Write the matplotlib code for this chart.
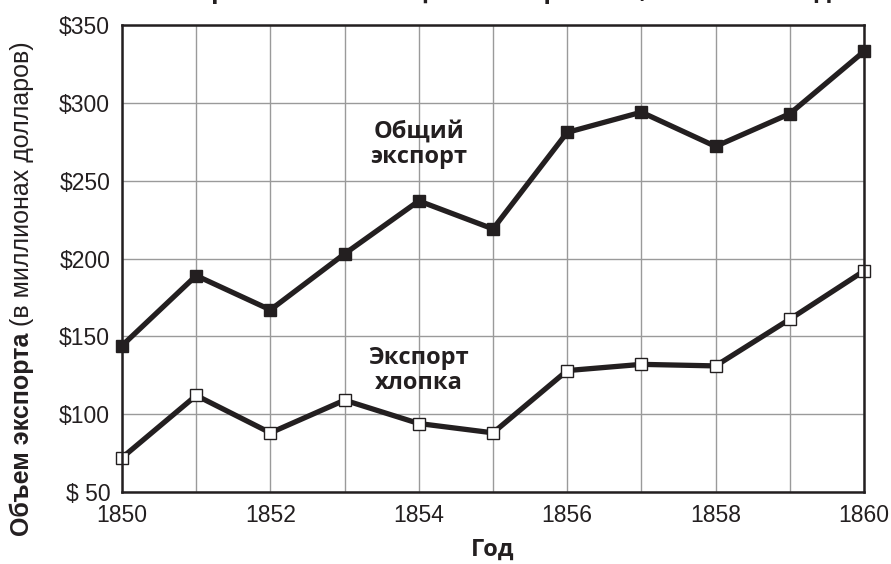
import matplotlib
matplotlib.use("Agg")
import matplotlib.pyplot as plt
from matplotlib.ticker import MultipleLocator, FuncFormatter

years = [1850, 1851, 1852, 1853, 1854, 1855, 1856, 1857, 1858, 1859, 1860]
total_exports = [144, 189, 167, 203, 237, 219, 281, 294, 272, 293, 333]
cotton_exports = [72, 112, 88, 109, 94, 88, 128, 132, 131, 161, 192]
y_ticks = [50, 100, 150, 200, 250, 300, 350]
x_ticks = [1850, 1852, 1854, 1856, 1858, 1860]

title = "Экспорт хлопка и общий экспорт США, 1850–1860 годы"
label_total = "Общий\nэкспорт"
label_cotton = "Экспорт\nхлопка"
ylabel_bold = "Объем экспорта"
ylabel_normal = " (в миллионах долларов)"
xlabel = "Год"

plt.rcParams['font.family'] = ['Liberation Sans', 'DejaVu Sans']

W, H = 891, 564
fig = plt.figure(figsize=(W / 100, H / 100), dpi=100)
L, R, T, B = 122, 864, 25, 492
ax = fig.add_axes([L / W, 1 - B / H, (R - L) / W, (B - T) / H])

ax.plot(years, total_exports, color='#231f20', lw=3.8, marker='s', ms=9,
        mfc='#231f20', mec='#231f20', zorder=3, clip_on=False)
ax.plot(years, cotton_exports, color='#231f20', lw=3.8, marker='s', ms=8.5,
        mfc='white', mec='#231f20', mew=1.0, zorder=3, clip_on=False)

ax.set_xlim(1850, 1860)
ax.set_ylim(50, 350)
ax.set_xticks(x_ticks)
ax.xaxis.set_minor_locator(MultipleLocator(1))
ax.set_yticks(y_ticks)
ax.yaxis.set_major_formatter(FuncFormatter(lambda v, p: f"${int(v)}" if v >= 100 else f"$ {int(v)}"))
ax.grid(True, which='both', color='#9a9a9a', lw=1.0, zorder=0)
ax.tick_params(which='both', length=0, labelsize=16.5, colors='#231f20')
ax.tick_params(axis='x', pad=8.5)
ax.tick_params(axis='y', pad=8.5)
for s in ax.spines.values():
    s.set_linewidth(1.8)
    s.set_color('#231f20')
    s.set_zorder(4)

lbl_font = ['Open Sans', 'DejaVu Sans']
ax.text(1854.0, 289, label_total, ha='center', va='top', fontsize=17,
        fontweight='bold', family=lbl_font, color='#231f20', linespacing=1.05, zorder=5)
ax.text(1854.0, 144, label_cotton, ha='center', va='top', fontsize=17,
        fontweight='bold', family=lbl_font, color='#231f20', linespacing=1.05, zorder=5)

fig.text((L + R) / 2 / W, 1 - 556 / H, xlabel, ha='center', va='baseline', fontsize=17,
         fontweight='bold', family=lbl_font, color='#231f20')

# title mostly cut off at the top edge, as in the reference
fig.text((L + R) / 2 / W, 1 + 2.5 / H, title, ha='center', va='baseline', fontsize=18,
         fontweight='bold', family=lbl_font, color='#231f20')

# y label: bold part + normal part
x_lab = 22 / W
t1 = fig.text(x_lab, 1 - 536 / H, ylabel_bold, rotation=90, ha='center', va='bottom',
              fontsize=18, fontweight='bold', color='#231f20')
fig.canvas.draw()
bb = t1.get_window_extent(fig.canvas.get_renderer())
top = bb.y1 / fig.bbox.height
fig.text(x_lab, top, ylabel_normal, rotation=90, ha='center', va='bottom',
         fontsize=18, color='#231f20')

fig.savefig('out.png', dpi=100)
